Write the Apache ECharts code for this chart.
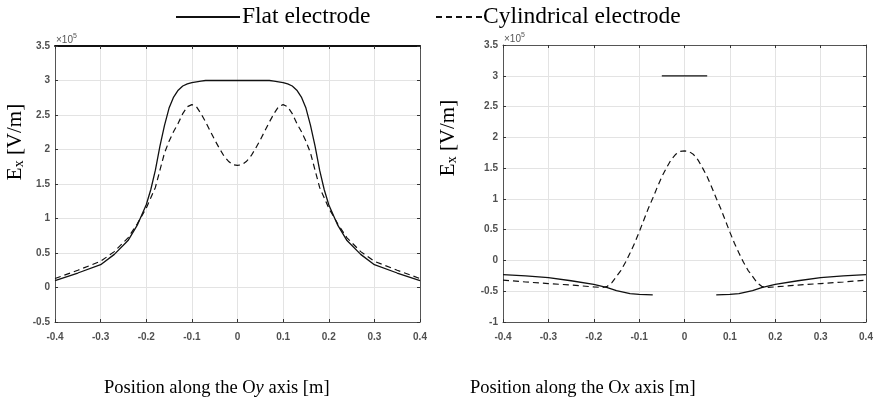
<!DOCTYPE html>
<html>
<head>
<meta charset="utf-8">
<script src="https://cdn.jsdelivr.net/npm/echarts@6/dist/echarts.min.js"></script>
<style>
    html, body { margin: 0; background: #fff; }
    #chart { width: 881px; height: 404px; }
</style>
</head>
<body>
<div id="chart"></div>
<script>
// values in units of 1e5 V/m
const oyX = [-0.4, -0.35, -0.3, -0.27, -0.24, -0.22, -0.2, -0.19, -0.18, -0.17, -0.16, -0.15, -0.14, -0.13, -0.12, -0.11, -0.1, -0.09, -0.08, -0.07, -0.06, -0.05, -0.04, -0.03, -0.02, -0.01, 0,
    0.01, 0.02, 0.03, 0.04, 0.05, 0.06, 0.07, 0.08, 0.09, 0.1, 0.11, 0.12, 0.13, 0.14, 0.15, 0.16, 0.17, 0.18, 0.19, 0.2, 0.22, 0.24, 0.27, 0.3, 0.35, 0.4];
const oyFlat = [0.10, 0.21, 0.33, 0.48, 0.68, 0.90, 1.20, 1.42, 1.70, 2.05, 2.35, 2.60, 2.76, 2.86, 2.92, 2.95, 2.97, 2.98, 2.99, 3.0, 3.0, 3.0, 3.0, 3.0, 3.0, 3.0, 3.0,
    3.0, 3.0, 3.0, 3.0, 3.0, 3.0, 3.0, 2.99, 2.98, 2.97, 2.95, 2.92, 2.86, 2.76, 2.60, 2.35, 2.05, 1.70, 1.42, 1.20, 0.90, 0.68, 0.48, 0.33, 0.21, 0.10];
const oyCyl = [0.13, 0.25, 0.38, 0.52, 0.72, 0.92, 1.15, 1.30, 1.45, 1.70, 1.95, 2.12, 2.26, 2.38, 2.52, 2.62, 2.65, 2.62, 2.52, 2.40, 2.27, 2.14, 2.02, 1.91, 1.83, 1.78, 1.77,
    1.78, 1.83, 1.91, 2.02, 2.14, 2.27, 2.40, 2.52, 2.62, 2.65, 2.62, 2.52, 2.38, 2.26, 2.12, 1.95, 1.70, 1.45, 1.30, 1.15, 0.92, 0.72, 0.52, 0.38, 0.25, 0.13];

const oxFlatX = [-0.4, -0.35, -0.3, -0.25, -0.2, -0.17, -0.15, -0.12, -0.1, -0.07, -0.06, -0.05, 0.05, 0.06, 0.07, 0.1, 0.12, 0.15, 0.17, 0.2, 0.25, 0.3, 0.35, 0.4];
const oxFlat = [-0.23, -0.25, -0.28, -0.33, -0.39, -0.44, -0.49, -0.54, -0.55, -0.56, null, 3.0, 3.0, null, -0.56, -0.55, -0.54, -0.49, -0.44, -0.39, -0.33, -0.28, -0.25, -0.23];
const oxCylX = [-0.4, -0.35, -0.3, -0.25, -0.2, -0.18, -0.17, -0.16, -0.15, -0.14, -0.13, -0.12, -0.11, -0.1, -0.09, -0.08, -0.07, -0.06, -0.05, -0.04, -0.03, -0.02, -0.01, 0,
    0.01, 0.02, 0.03, 0.04, 0.05, 0.06, 0.07, 0.08, 0.09, 0.1, 0.11, 0.12, 0.13, 0.14, 0.15, 0.16, 0.17, 0.18, 0.2, 0.25, 0.3, 0.35, 0.4];
const oxCyl = [-0.32, -0.35, -0.375, -0.40, -0.43, -0.44, -0.42, -0.36, -0.26, -0.16, -0.03, 0.12, 0.28, 0.46, 0.65, 0.84, 1.01, 1.19, 1.36, 1.50, 1.63, 1.72, 1.77, 1.78,
    1.77, 1.72, 1.63, 1.50, 1.36, 1.19, 1.01, 0.84, 0.65, 0.46, 0.28, 0.12, -0.03, -0.16, -0.26, -0.36, -0.42, -0.44, -0.43, -0.40, -0.375, -0.35, -0.32];

const xTicks = { min: -0.4, max: 0.4, interval: 0.1 };
const yLeft = { min: -0.5, max: 3.5, interval: 0.5 };
const yRight = { min: -1, max: 3.5, interval: 0.5 };

const zip = (xs, ys) => xs.map((x, i) => [x, ys[i]]);

const serif = 'Liberation Serif';
const tickFont = { fontFamily: 'Liberation Sans', fontSize: 10, fontWeight: 'bold', color: '#505050' };

function bottomAxis(gi) {
    return {
        type: 'value', gridIndex: gi, ...xTicks,
        axisLine: { show: true, onZero: false, lineStyle: { color: '#555', width: 1 } },
        axisTick: { show: true, inside: true, length: 3, lineStyle: { color: '#333' } },
        axisLabel: { ...tickFont, margin: 10 },
        splitLine: { show: true, lineStyle: { color: '#e3e3e3', width: 1 } }
    };
}
function topAxis(gi, color, width) {
    return {
        type: 'value', gridIndex: gi, position: 'top', ...xTicks,
        axisLine: { show: true, onZero: false, lineStyle: { color: color, width: width } },
        axisTick: { show: true, inside: true, length: 3, lineStyle: { color: '#333' } },
        axisLabel: { show: false }, splitLine: { show: false }
    };
}
function leftAxis(gi, range) {
    return {
        type: 'value', gridIndex: gi, ...range,
        axisLine: { show: true, onZero: false, lineStyle: { color: '#555', width: 1 } },
        axisTick: { show: true, inside: true, length: 3, lineStyle: { color: '#333' } },
        axisLabel: { ...tickFont, margin: 5 },
        splitLine: { show: true, lineStyle: { color: '#e3e3e3', width: 1 } }
    };
}
function rightAxis(gi, range) {
    return {
        type: 'value', gridIndex: gi, position: 'right', ...range,
        axisLine: { show: true, onZero: false, lineStyle: { color: '#555', width: 1 } },
        axisTick: { show: true, inside: true, length: 3, lineStyle: { color: '#333' } },
        axisLabel: { show: false }, splitLine: { show: false }
    };
}

const solid = { color: '#111', width: 1.3 };
const dashed = { color: '#111', width: 1.2, type: [6, 4] };
const titleRich = {
    n: { fontFamily: serif, fontSize: 18.5, fontWeight: 'normal', color: '#000' },
    i: { fontFamily: serif, fontSize: 18.5, fontWeight: 'normal', color: '#000', fontStyle: 'italic' }
};
const yNameRich = {
    e: { fontFamily: serif, fontSize: 21, fill: '#000' },
    s: { fontFamily: serif, fontSize: 14, fill: '#000', padding: [9, 0, 0, 0] }
};
const expText = (x, y) => ({
    type: 'text', left: x, top: y,
    style: { text: '×10{p|5}', fontFamily: 'Liberation Sans', fontSize: 10, fill: '#555', rich: { p: { fontSize: 7, fill: '#555', padding: [0, 0, 7, 0] } } }
});
const yName = (x, y) => ({
    type: 'text', x: x, y: y, rotation: Math.PI / 2,
    style: { text: '{e|E}{s|x}{e| [V/m]}', align: 'center', verticalAlign: 'middle', rich: yNameRich }
});
const legendText = { fontFamily: serif, fontSize: 23.5, color: '#000' };

const chart = echarts.init(document.getElementById('chart'));
chart.setOption({
    animation: false,
    backgroundColor: '#fff',
    legend: [
        {
            top: 0, left: 170, itemWidth: 64, itemHeight: 12,
            itemStyle: { opacity: 0 },
            textStyle: { ...legendText, padding: [0, 0, 0, -3] },
            data: ['Flat electrode']
        },
        {
            top: 0, left: 430, itemWidth: 46, itemHeight: 12,
            itemStyle: { opacity: 0 },
            textStyle: { ...legendText, padding: [0, 0, 0, -4] },
            data: ['Cylindrical electrode']
        }
    ],
    title: [
        { text: '{n|Position along the O}{i|y}{n| axis [m]}', left: 99, top: 374, textStyle: { fontWeight: 'normal', rich: titleRich } },
        { text: '{n|Position along the O}{i|x}{n| axis [m]}', left: 465, top: 374, textStyle: { fontWeight: 'normal', rich: titleRich } }
    ],
    graphic: [
        expText(56, 33), expText(504, 32),
        yName(15, 142), yName(448, 138)
    ],
    grid: [
        { left: 55, top: 46, width: 365, height: 276 },
        { left: 503, top: 45, width: 363, height: 277 }
    ],
    xAxis: [bottomAxis(0), bottomAxis(1), topAxis(0, '#111', 2), topAxis(1, '#555', 1)],
    yAxis: [leftAxis(0, yLeft), leftAxis(1, yRight), rightAxis(0, yLeft), rightAxis(1, yRight)],
    series: [
        { name: 'Flat electrode', type: 'line', xAxisIndex: 0, yAxisIndex: 0, symbol: 'none', data: zip(oyX, oyFlat), lineStyle: solid, itemStyle: { color: '#111' } },
        { name: 'Cylindrical electrode', type: 'line', xAxisIndex: 0, yAxisIndex: 0, symbol: 'none', data: zip(oyX, oyCyl), lineStyle: dashed, itemStyle: { color: '#111' } },
        { name: 'Flat electrode', type: 'line', xAxisIndex: 1, yAxisIndex: 1, symbol: 'none', connectNulls: false, data: zip(oxFlatX, oxFlat), lineStyle: solid, itemStyle: { color: '#111' } },
        { name: 'Cylindrical electrode', type: 'line', xAxisIndex: 1, yAxisIndex: 1, symbol: 'none', data: zip(oxCylX, oxCyl), lineStyle: dashed, itemStyle: { color: '#111' } }
    ]
});
</script>
</body>
</html>
